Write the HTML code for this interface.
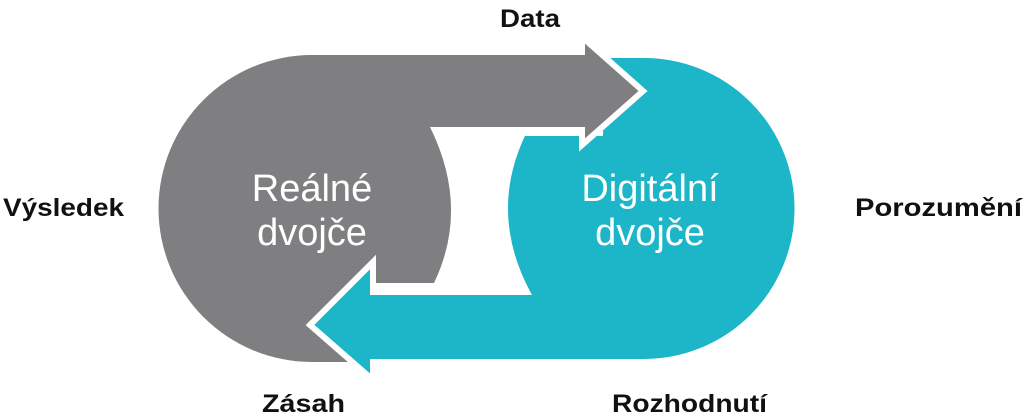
<!DOCTYPE html>
<html><head><meta charset="utf-8"><style>
html,body{margin:0;padding:0;background:#fff;width:1024px;height:419px;overflow:hidden}
svg{display:block}
.l{font-family:"Liberation Sans",sans-serif;font-weight:bold;font-size:25px;fill:#111}
.w{font-family:"Liberation Sans",sans-serif;font-size:38px;fill:#fff}
</style></head><body>
<svg width="1024" height="419" viewBox="0 0 1024 419">
<path d="M312,55 L600,55 L600,127 L430,127 Q470,208 434,283 L373,283 L373,362 L312,362 A153.5,153.5 0 0 1 312,55 Z" fill="#7f7e80"/>
<path d="M644,55 A153.5,153.5 0 0 1 644,362 L373,362 L373,380 L310,325 L373,262 L373,292 L527,292 Q485,212 523,133 L600,133 L600,55 Z" fill="#1db5c8" stroke="#fff" stroke-width="6" stroke-linejoin="miter"/>
<rect x="373" y="295" width="150" height="64" fill="#1db5c8"/>
<polygon points="560,55 582,55 582,37 643,91 582,145 582,127 560,127" fill="#7f7e80" stroke="#fff" stroke-width="6"/>
<rect x="540" y="55" width="45" height="72" fill="#7f7e80"/>
<text class="w" x="312" y="201" text-anchor="middle">Reálné</text>
<text class="w" x="312" y="245" text-anchor="middle">dvojče</text>
<text class="w" x="650" y="201" text-anchor="middle">Digitální</text>
<text class="w" x="650" y="245" text-anchor="middle">dvojče</text>
<text class="l" x="500" y="27" textLength="60" lengthAdjust="spacingAndGlyphs">Data</text>
<text class="l" x="3" y="216" textLength="121" lengthAdjust="spacingAndGlyphs">Výsledek</text>
<text class="l" x="855" y="216" textLength="167" lengthAdjust="spacingAndGlyphs">Porozumění</text>
<text class="l" x="262" y="412" textLength="83" lengthAdjust="spacingAndGlyphs">Zásah</text>
<text class="l" x="612" y="412" textLength="155" lengthAdjust="spacingAndGlyphs">Rozhodnutí</text>
</svg>
</body></html>
